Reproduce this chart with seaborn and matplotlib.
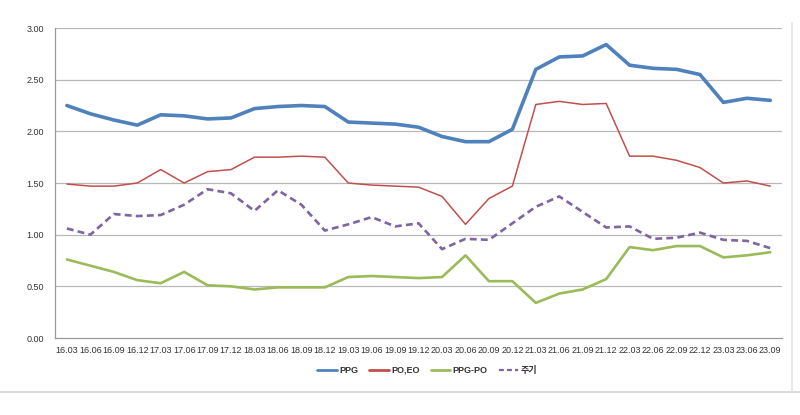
import matplotlib
matplotlib.use("Agg")
import matplotlib.pyplot as plt
from matplotlib.lines import Line2D
import numpy as np
import pandas as pd
import seaborn as sns

periods = [
    "16.03", "16.06", "16.09", "16.12", "17.03", "17.06", "17.09", "17.12",
    "18.03", "18.06", "18.09", "18.12", "19.03", "19.06", "19.09", "19.12",
    "20.03", "20.06", "20.09", "20.12", "21.03", "21.06", "21.09", "21.12",
    "22.03", "22.06", "22.09", "22.12", "23.03", "23.06", "23.09",
]
ppg = [2.25, 2.17, 2.11, 2.06, 2.16, 2.15, 2.12, 2.13, 2.22, 2.24, 2.25, 2.24,
       2.09, 2.08, 2.07, 2.04, 1.95, 1.90, 1.90, 2.02, 2.60, 2.72, 2.73, 2.84,
       2.64, 2.61, 2.60, 2.55, 2.28, 2.32, 2.30]
po_eo = [1.49, 1.47, 1.47, 1.50, 1.63, 1.50, 1.61, 1.63, 1.75, 1.75, 1.76, 1.75,
         1.50, 1.48, 1.47, 1.46, 1.37, 1.10, 1.35, 1.47, 2.26, 2.29, 2.26, 2.27,
         1.76, 1.76, 1.72, 1.65, 1.50, 1.52, 1.47]
ppg_po = [0.76, 0.70, 0.64, 0.56, 0.53, 0.64, 0.51, 0.50, 0.47, 0.49, 0.49, 0.49,
          0.59, 0.60, 0.59, 0.58, 0.59, 0.80, 0.55, 0.55, 0.34, 0.43, 0.47, 0.57,
          0.88, 0.85, 0.89, 0.89, 0.78, 0.80, 0.83]
cycle = [1.06, 1.00, 1.20, 1.18, 1.19, 1.29, 1.44, 1.40, 1.23, 1.43, 1.29, 1.04,
         1.10, 1.17, 1.08, 1.11, 0.86, 0.96, 0.95, 1.11, 1.27, 1.37, 1.22, 1.07,
         1.08, 0.96, 0.97, 1.02, 0.95, 0.94, 0.87]
yticks = [0.0, 0.5, 1.0, 1.5, 2.0, 2.5, 3.0]

sns.set_style("white")
plt.rcParams["font.family"] = ["Liberation Sans", "Noto Sans CJK KR", "DejaVu Sans"]

idx = np.arange(len(periods))
series = [
    ("PPG", ppg, "#4f81bd", 2.6, "-"),
    ("PO,EO", po_eo, "#c0504d", 1.1, "-"),
    ("PPG-PO", ppg_po, "#9bbb59", 1.9, "-"),
    ("주기", cycle, "#8064a2", 1.9, "--"),
]

fig = plt.figure(figsize=(8, 4.15), dpi=100)
ax = fig.add_axes([0.069, 0.1855, 0.9085, 0.747])

handles = []
for name, vals, color, lw, ls in series:
    df = pd.DataFrame({"x": idx, "y": vals})
    line_kw = dict(color=color, linewidth=lw, legend=False)
    if ls == "--":
        line_kw["dashes"] = (2.6, 1.6)
    sns.lineplot(data=df, x="x", y="y", ax=ax, **line_kw)
    if ls == "--":
        ax.lines[-1].set_dashes((2.6, 1.6))
    h = Line2D([0], [0], color=color, linewidth=2.0 if ls == "-" else 1.6, label=name)
    if ls == "--":
        h.set_dashes((2.2, 1.4))
    handles.append(h)

ax.set_xlim(-0.5, len(periods) - 0.5)
ax.set_ylim(0, 3.0)
ax.set_yticks(yticks)
ax.set_yticklabels([f"{v:.2f}" for v in yticks], fontsize=6.5, color="#333333")
ax.set_xticks(idx)
ax.set_xticklabels(periods, fontsize=6.5, color="#333333")
ax.set_xticks(np.arange(-0.5, len(periods), 1.0), minor=True)
ax.tick_params(axis="x", which="major", length=0, pad=6)
ax.tick_params(axis="x", which="minor", length=4, color="#999999", width=0.8)
ax.tick_params(axis="y", length=4, color="#999999", width=0.8, pad=4)
ax.set_xlabel("")
ax.set_ylabel("")

for v in yticks[1:]:
    ax.axhline(v, color="#b8b8b8", linewidth=0.9, zorder=0)

for side in ["top", "right"]:
    ax.spines[side].set_visible(False)
for side in ["left", "bottom"]:
    ax.spines[side].set_color("#999999")
    ax.spines[side].set_linewidth(0.9)

leg = fig.legend(handles=handles, loc="center", bbox_to_anchor=(0.534, 0.108),
                 ncol=4, frameon=False, fontsize=6.5, handlelength=2.2,
                 columnspacing=1.2, handletextpad=0.25)
for t in leg.get_texts():
    t.set_fontweight("bold")
    t.set_color("#333333")

fig.add_artist(Line2D([0.0, 1.0], [0.055, 0.055], color="#dddddd", linewidth=1.5))
fig.add_artist(Line2D([0.99, 0.99], [0.055, 0.945], color="#e4e4e4", linewidth=1.2))

fig.savefig("out.png", dpi=100)
plt.close(fig)
